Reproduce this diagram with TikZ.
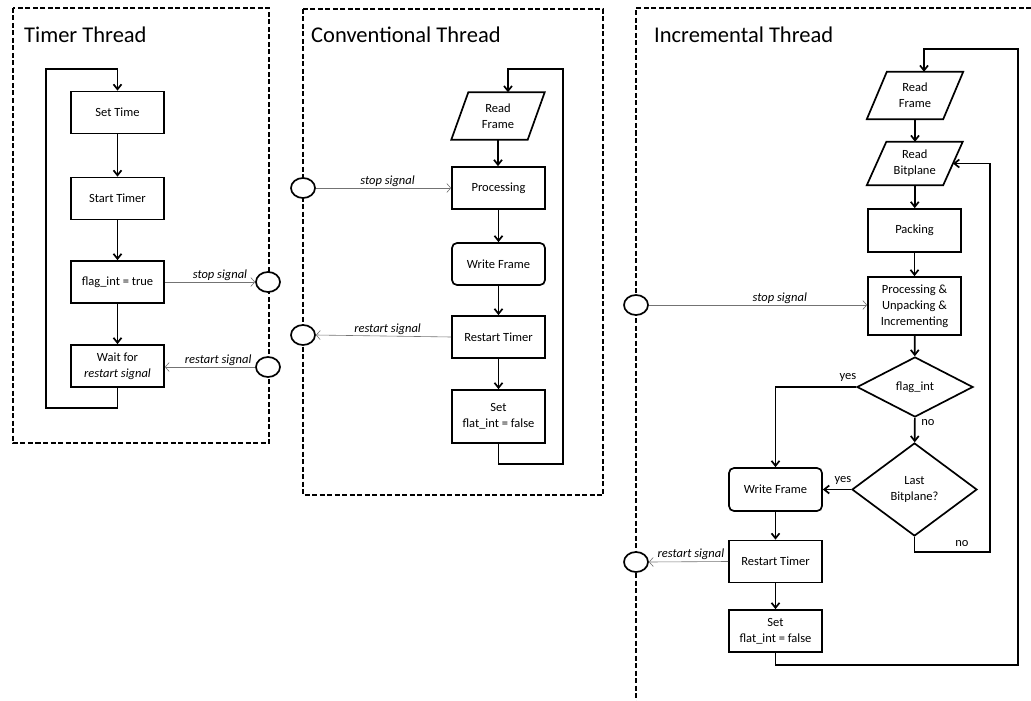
\documentclass[tikz,border=0pt]{standalone}
\usepackage{fontspec}
\setmainfont{Carlito}
\usetikzlibrary{arrows.meta,shapes.geometric}

\newcommand\boxfont{\fontsize{12.5}{16}\selectfont}
\newcommand\titlefont{\fontsize{22.5}{27}\selectfont}
\newcommand\sigfont{\fontsize{12.5}{15}\selectfont\itshape}

\tikzset{
  flow/.style={line width=1.7, -{Straight Barb[length=5,width=8]}},
  procbox/.style={draw, line width=1.7, minimum width=93, minimum height=42,
    align=center, inner sep=2, font=\boxfont},
  roundbox/.style={procbox, rounded corners=5},
  iobox/.style={minimum width=76, minimum height=47, align=center, inner sep=1,
    font=\boxfont},
  decision/.style={draw, diamond, line width=1.7, align=center, inner sep=0,
    font=\boxfont},
  port/.style={draw, ellipse, line width=1.7, fill=white, minimum width=24,
    minimum height=20, inner sep=0},
  threadborder/.style={line width=1.6, dash pattern=on 5 off 2.5},
  signal/.style={draw=black!55, line width=0.6,
    -{Straight Barb[length=4,width=9]}},
  siglabel/.style={font=\sigfont, inner sep=1.5, above},
  answer/.style={font=\boxfont, inner sep=0},
  threadtitle/.style={font=\titlefont, anchor=base west, inner sep=0}
}

% parallelogram drawn around a rectangular node
\newcommand\slantbox[2]{%
  \draw[line width=1.7] ([xshift=#2]#1.north west) -- ([xshift=#2]#1.north east)
    -- ([xshift=-#2]#1.south east) -- ([xshift=-#2]#1.south west) -- cycle;}

\begin{document}
\begin{tikzpicture}[x=1pt, y=-1pt]
\useasboundingbox (0,0) rectangle (1031,701);

% ---------------- thread borders ----------------
\draw[threadborder] (13,8) rectangle (269,443);
\draw[threadborder] (303,9) rectangle (603,495);
\draw[threadborder] (1031,8) -- (636,8) -- (636,701);

\node[threadtitle] (ttitle) at (24,43) {Timer Thread};
\node[threadtitle] (ctitle) at (311,43) {Conventional Thread};
\node[threadtitle] (ititle) at (654,43) {Incremental Thread};

% ---------------- timer thread ----------------
\node[procbox] (settime) at (117.5,112.5) {Set Time};
\node[procbox] (starttimer) at (117.5,198.5) {Start Timer};
\node[procbox] (flagtrue) at (117.5,282) {flag\_int = true};
\node[procbox] (waitfor) at (117.5,366) {Wait for\\\textit{restart signal}};

\draw[flow] (settime) -- (starttimer);
\draw[flow] (starttimer) -- (flagtrue);
\draw[flow] (flagtrue) -- (waitfor);
\coordinate (tbl) at (46,408);
\coordinate (ttl) at (46,69);
\draw[flow] (waitfor.south) |- (tbl) -- (ttl) -| (settime.north);

\node[port] (tstop) at (268,282) {};
\node[port] (trestart) at (268,367) {};

% ---------------- conventional thread ----------------
\node[iobox] (cread) at (498,116) {Read\\Frame};
\slantbox{cread}{8.5}
\node[procbox] (cproc) at (498.5,188) {Processing};
\node[roundbox] (cwrite) at (498.5,264) {Write Frame};
\node[procbox] (crestart) at (498.5,337) {Restart Timer};
\node[procbox, minimum height=53] (cset) at (498.5,416.5) {Set\\flat\_int = false};

\draw[flow] (cread.south) -- (cread.south |- cproc.north);
\draw[flow] (cproc) -- (cwrite);
\draw[flow] (cwrite) -- (crestart);
\draw[flow] (crestart) -- (cset);
\coordinate (cbr) at (563,464);
\coordinate (ctr) at (563,69);
\draw[flow] (cset.south) |- (cbr) -- (ctr) -| ([xshift=10]cread.north);

\node[port] (cstop) at (303,188) {};
\node[port] (crestartport) at (303,335) {};

% ---------------- incremental thread ----------------
\node[iobox] (iread) at (915,95.5) {Read\\Frame};
\slantbox{iread}{10}
\node[iobox, minimum height=43] (ibit) at (914.75,163.5) {Read\\Bitplane};
\slantbox{ibit}{9.75}
\node[procbox, minimum height=43] (ipack) at (914.5,230.5) {Packing};
\node[procbox, minimum height=58] (iproc) at (914.5,306) {Processing \&\\Unpacking \&\\Incrementing};
\node[decision, minimum width=116, minimum height=60] (flagint) at (915,387) {flag\_int};
\node[decision, minimum width=125, minimum height=93] (lastbp) at (914.5,489.5) {Last\\Bitplane?};
\node[roundbox, minimum height=43] (iwrite) at (775.5,489.5) {Write Frame};
\node[procbox] (irestart) at (775.5,561.5) {Restart Timer};
\node[procbox] (iset) at (775.5,631) {Set\\flat\_int = false};

\draw[flow] (iread.south) -- (iread.south |- ibit.north);
\draw[flow] (ibit.south) -- (ibit.south |- ipack.north);
\draw[flow] (ipack) -- (iproc);
\draw[flow] (iproc) -- (flagint);
\draw[flow] (flagint.west) -| (iwrite.north);
\draw[flow] (flagint) -- (lastbp);
\draw[flow] (lastbp.west) -- (iwrite.east);
\draw[flow] (iwrite) -- (irestart);
\draw[flow] (irestart) -- (iset);
\coordinate (nobr) at (990,552);
\coordinate (notr) at (990,163.5);
\draw[flow] (lastbp.south) |- (nobr) -- (notr) -- (ibit.east);
\coordinate (ibr) at (1018,665);
\coordinate (itr) at (1018,49);
\draw[flow] (iset.south) |- (ibr) -- (itr) -| ([xshift=9]iread.north);

\node[answer] (yes1) at (848,377) {yes};
\node[answer] (no1) at (928,423) {no};
\node[answer] (yes2) at (843,480) {yes};
\node[answer] (no2) at (962,544) {no};

\node[port] (istop) at (636,305) {};
\node[port] (irestartport) at (636,562) {};

% ---------------- signals ----------------
\draw[signal] (flagtrue.east) -- node[siglabel, pos=0.61] {stop signal} (tstop.west);
\draw[signal] (trestart.west) -- node[siglabel, pos=0.41] {restart signal} (waitfor.east |- trestart.west);
\draw[signal] (cstop.east) -- node[siglabel, pos=0.53] {stop signal} (cproc.west);
\draw[signal] (crestart.west) -- node[siglabel, pos=0.47] {restart signal} (crestartport.east);
\draw[signal] (istop.east) -- node[siglabel, pos=0.6] {stop signal} (iproc.west |- istop.east);
\draw[signal] (irestart.west) -- node[siglabel, pos=0.47] {restart signal} (irestartport.east);
\end{tikzpicture}
\end{document}
